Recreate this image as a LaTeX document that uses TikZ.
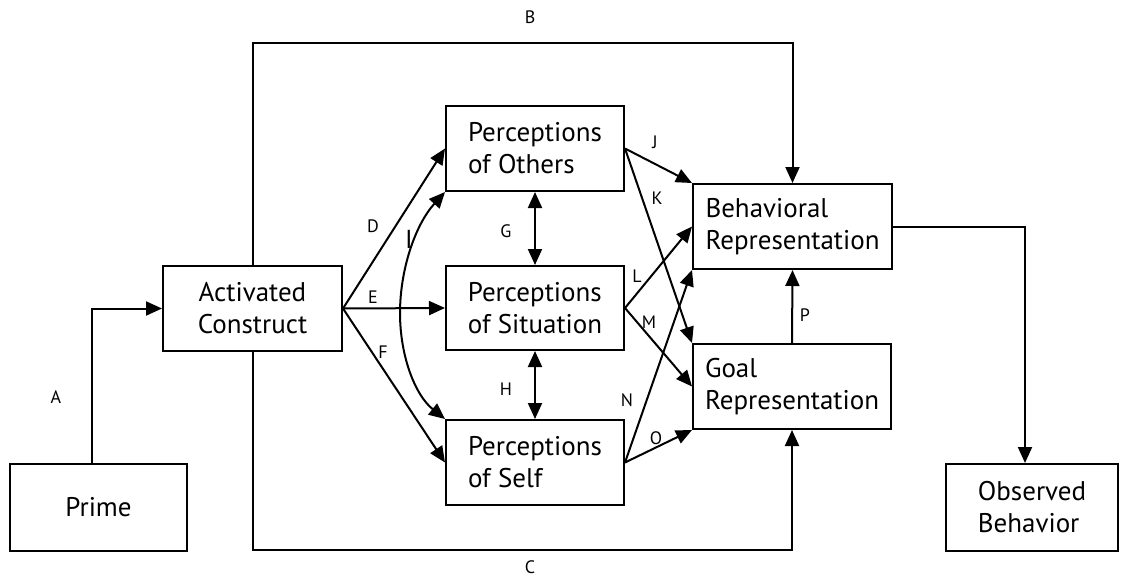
\documentclass[tikz,border=0pt]{standalone}
\usepackage{fontspec}
\setmainfont{PT Sans}
\usetikzlibrary{arrows.meta}
\begin{document}
\begin{tikzpicture}[x=1pt,y=-1pt,
  box/.style={draw,line width=2pt,inner sep=0pt,font=\fontsize{27}{32}\selectfont},
  arr/.style={line width=2pt,-{Triangle[length=16pt,width=14pt]}},
  dbl/.style={line width=2pt,{Triangle[length=16pt,width=14pt]}-{Triangle[length=16pt,width=14pt]}},
  lab/.style={font=\fontsize{18}{21}\selectfont}]
\useasboundingbox (0,0) rectangle (1121,579);
\node[box,minimum width=177pt,minimum height=87pt,align=center] (prime) at (98.5,507.5) {Prime};
\node[box,minimum width=179pt,minimum height=85pt,align=center] (act) at (252.5,308.5) {Activated\\Construct};
\node[box,minimum width=178pt,minimum height=85pt,align=left] (oth) at (535,148.5) {Perceptions\\of Others};
\node[box,minimum width=178pt,minimum height=84pt,align=left] (sit) at (535,308) {Perceptions\\of Situation};
\node[box,minimum width=178pt,minimum height=85pt,align=left] (self) at (535,462.5) {Perceptions\\of Self};
\node[box,minimum width=199pt,minimum height=85pt,align=left] (beh) at (792.5,226.5) {Behavioral\\Representation};
\node[box,minimum width=198pt,minimum height=85pt,align=left] (goal) at (792,386.5) {Goal\\Representation};
\node[box,minimum width=172pt,minimum height=87pt,align=left] (obs) at (1032,507.5) {Observed\\Behavior};
\coordinate (pa) at (92,312);
\coordinate (bt) at (253,43);
\coordinate (cb) at (253,550);
\coordinate (bo) at (1025,228);
\coordinate (im) at (400,313);
\draw[arr] (pa |- prime.north) |- (act.west);
\draw[arr] (act.north) -- (act.north |- bt) -| (beh.north);
\draw[arr] (act.south) -- (act.south |- cb) -| (goal.south);
\draw[arr] (beh.east) -| (bo |- obs.north);
\draw[arr] (act.east) -- (oth.west);
\draw[arr] (act.east) -- (sit.west);
\draw[arr] (act.east) -- (self.west);
\draw[dbl] (oth.south west) .. controls (415,225) and (400,270) .. (im) .. controls (400,356) and (415,395) .. (self.north west);
\draw[dbl] (oth.south) -- (sit.north);
\draw[dbl] (sit.south) -- (self.north);
\draw[arr] (oth.east) -- (beh.north west);
\draw[arr] (oth.east) -- (goal.north west);
\draw[arr] (sit.east) -- (beh.west);
\draw[arr] (sit.east) -- (goal.west);
\draw[arr] (self.east) -- (beh.south west);
\draw[arr] (self.east) -- (goal.south west);
\draw[arr] (goal.north) -- (beh.south);
\node[lab] (lA) at (56,397) {A};
\node[lab] (lB) at (530,17) {B};
\node[lab] (lC) at (530,567) {C};
\node[lab] (lD) at (373,226) {D};
\node[lab] (lE) at (373,297) {E};
\node[lab] (lF) at (383,352) {F};
\node[lab] (lG) at (506,231) {G};
\node[lab] (lH) at (506,389) {H};
\node[font=\fontsize{26}{30}\selectfont] (lI) at (409,239) {I};
\node[lab] (lJ) at (655,142) {J};
\node[lab] (lK) at (657,198) {K};
\node[lab] (lL) at (637,276) {L};
\node[lab] (lM) at (649,322) {M};
\node[lab] (lN) at (627,400) {N};
\node[lab] (lO) at (656,438) {O};
\node[lab] (lP) at (805,315) {P};
\end{tikzpicture}
\end{document}
